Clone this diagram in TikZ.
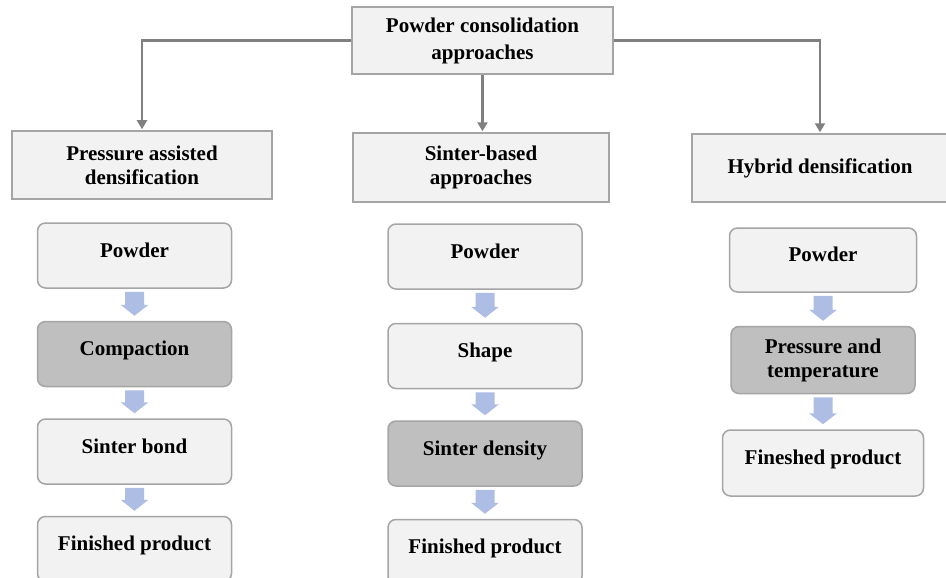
\documentclass[tikz,border=0pt]{standalone}
\usepackage{fontspec}
\setmainfont{Liberation Serif}
\usetikzlibrary{positioning,arrows.meta,calc}
\definecolor{bxf}{RGB}{242,242,242}
\definecolor{bxd}{RGB}{191,191,191}
\definecolor{bxl}{RGB}{165,165,165}
\definecolor{lnk}{RGB}{128,128,128}
\definecolor{blu}{RGB}{174,189,228}

\begin{document}
\begin{tikzpicture}[x=1pt,y=-1pt,font=\bfseries\fontsize{21}{24}\selectfont,node distance=32pt,
  cat/.style={draw=bxl,line width=1.5pt,fill=bxf,align=center,inner sep=0pt},
  box/.style={draw=bxl,line width=1.5pt,rounded corners=8pt,align=center,inner sep=0pt,minimum width=194pt,minimum height=65pt},
  stp/.style={box,fill=bxf,text height=15pt,text depth=12pt},
  stpd/.style={stp,fill=bxd},
  lnk/.style={draw=lnk,line width=2.2pt,-{Triangle[width=10pt,length=9pt]},shorten >=1pt},
  blk/.style={fill=blu}]
  \useasboundingbox (0,0) rectangle (946,578);
  % top and the three approaches
  \node[cat,minimum width=261pt,minimum height=67pt,font=\bfseries\fontsize{21}{27}\selectfont] (top) at (482.5,40.5) {Powder consolidation\\approaches};
  \node[cat,minimum width=260pt,minimum height=68pt] (pad) at (142,165) {Pressure assisted\\densification};
  \node[cat,minimum width=256pt,minimum height=69pt] (sba) at (481,167.5) {Sinter-based\\approaches};
  \node[cat,minimum width=256pt,minimum height=68pt] (hyd) at (820,168) {Hybrid densification};
  \draw[lnk] (top.west) -| (pad.north);
  \draw[lnk] (top.east) -| (hyd.north);
  \draw[lnk] (top.south) -- (top.south |- sba.north);
  % pressure assisted
  \node[stp] (p1) at (134.5,255.5) {Powder};
  \node[stpd,below=of p1] (c1) {Compaction};
  \node[stp,below=31pt of c1] (s1) {Sinter bond};
  \node[stp,below=31pt of s1] (f1) {Finished product};
  % sinter-based
  \node[stp] (p2) at (485,256.5) {Powder};
  \node[stp,below=33pt of p2] (s2) {Shape};
  \node[stpd,below=31pt of s2] (d2) {Sinter density};
  \node[stp,below=of d2] (f2) {Finished product};
  % hybrid
  \node[stp,minimum width=187pt,minimum height=64pt] (p3) at (823,260) {Powder};
  \node[box,fill=bxd,minimum width=184pt,minimum height=67pt,below=33pt of p3] (t3) {Pressure and\\temperature};
  \node[stp,minimum width=201pt,minimum height=66pt,below=35pt of t3] (f3) {Fineshed product};
  % block arrows
  \foreach \a/\b in {p1/c1,c1/s1,s1/f1,p2/s2,s2/d2,d2/f2,p3/t3,t3/f3}
    \fill[blk] ($(\a.south)+(-9.5,3)$) -- ($(\a.south)+(9.5,3)$) -- ($(\b.north)+(9.5,-16)$)
      -- ($(\b.north)+(14,-16)$) -- ($(\b.north)+(0,-5)$) -- ($(\b.north)+(-14,-16)$)
      -- ($(\b.north)+(-9.5,-16)$) -- cycle;
\end{tikzpicture}
\end{document}
